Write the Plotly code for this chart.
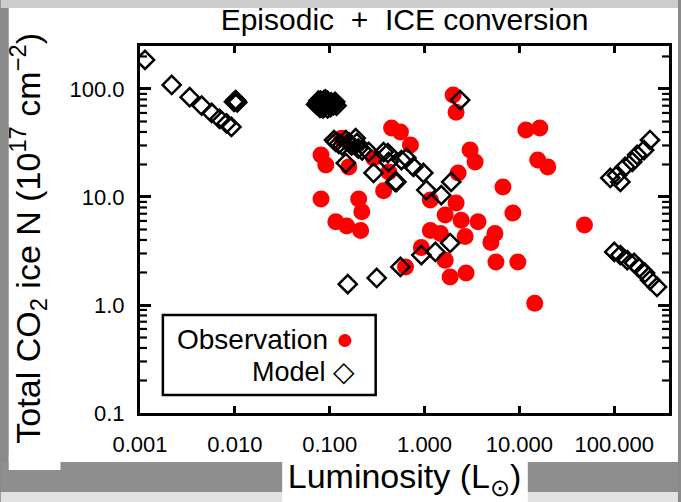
import plotly.graph_objects as go

# ---------------- data ----------------
obs_lum = [0.081, 0.091, 0.081, 0.116, 0.151, 0.212, 0.202, 0.218, 0.159, 0.134,
           0.37, 0.449, 0.557, 0.71, 0.29, 0.42,
           2.0, 2.15, 3.02, 3.41, 2.26,
           1.15, 2.15, 6.7, 8.53,
           1.65, 2.43, 3.66, 1.15, 1.47, 2.68, 5.52, 5.01, 0.925, 1.65,
           5.66, 9.62, 0.63, 1.86, 2.74, 14.5,
           11.7, 16.4, 15.6, 19.9, 48.5]
obs_n = [24.5, 19.8, 9.6, 5.9, 5.4, 4.9, 9.6, 7.3, 19.0, 35.0,
         11.4, 43.5, 40.0, 30.3, 23.0, 17.0,
         88.0, 61.0, 27.2, 21.1, 16.7,
         9.4, 8.8, 12.4, 7.1,
         6.8, 6.1, 5.9, 4.9, 4.6, 4.3, 4.6, 3.8, 3.4, 2.6,
         2.5, 2.5, 2.25, 1.82, 1.98, 1.04,
         41.7, 43.5, 22.0, 19.0, 5.5]

mod_lum = [0.00113, 0.00216, 0.00334, 0.00447, 0.00569, 0.0069, 0.00817, 0.0092,
           0.0098, 0.0102, 0.0106, 0.0104,
           0.072, 0.075, 0.078, 0.080, 0.083, 0.086, 0.088, 0.090, 0.093, 0.096, 0.100,
           0.104, 0.108, 0.112, 0.118, 0.085, 0.095, 0.076, 0.079, 0.082, 0.087,
           0.091, 0.094, 0.098, 0.102, 0.106, 0.110, 0.114, 0.089, 0.099, 0.084,
           0.111, 0.116, 0.125, 0.135, 0.148, 0.16, 0.17, 0.188, 0.193, 0.2, 0.22,
           0.148, 0.258, 0.29, 0.37, 0.41, 0.418, 0.49, 0.506, 0.57, 0.644, 0.764,
           0.97, 1.045, 1.5, 1.91, 2.37,
           0.155, 0.313, 0.557, 0.925, 1.3, 1.86,
           90.8, 107, 116, 130, 155, 174, 206, 238,
           100, 116, 137, 162, 183, 211, 238, 282]
mod_n = [186, 109, 84, 70, 60, 53, 48, 44.5,
         76, 79, 75, 77,
         72, 74, 70, 78, 72, 76, 68, 80, 73, 77, 70,
         75, 72, 74, 70, 66, 66, 78, 67, 75, 79,
         71, 78, 74, 68, 73, 71, 76, 74, 72, 69,
         33.7, 32.3, 31, 30, 33.7, 32, 30, 35, 31.6, 28, 27,
         20.6, 26.1, 16.7, 26, 25.5, 21.1, 13.8, 13.8, 22.0, 23, 19,
         16.7, 11.6, 10.4, 13.8, 79,
         1.56, 1.78, 2.25, 2.9, 3.1, 3.75,
         15, 15.9, 13.8, 19, 21.1, 24.5, 27.2, 33.7,
         3.1, 2.9, 2.6, 2.45, 2.2, 1.98, 1.70, 1.47]

x_tickvals = [0.001, 0.01, 0.1, 1, 10, 100]
x_ticktext = ["0.001", "0.010", "0.100", "1.000", "10.000", "100.000"]
y_tickvals = [0.1, 1, 10, 100]
y_ticktext = ["0.1", "1.0", "10.0", "100.0"]
y_minor = [0.2, 0.3, 0.4, 0.5, 0.6, 0.7, 0.8, 0.9,
           2, 3, 4, 5, 6, 7, 8, 9,
           20, 30, 40, 50, 60, 70, 80, 90, 200]

# ---------------- layout geometry (pixels) ----------------
W, H = 681, 502
L, R, T, B = 140, 672, 46, 413
FONT = "Liberation Sans, Arial, sans-serif"
X_RANGE = [-3, 2.577]
Y_RANGE = [-1, 2.398]
MINOR_LEN = 7 / (R - L)


def px(x):
    return (x - L) / (R - L)


def py(y):
    return (B - y) / (B - T)


fig = go.Figure()
fig.add_trace(go.Scatter(x=obs_lum, y=obs_n, mode="markers", name="Observation",
                         marker=dict(symbol="circle", size=17, color="#ff0000",
                                     line=dict(width=0))))
fig.add_trace(go.Scatter(x=mod_lum, y=mod_n, mode="markers", name="Model",
                         marker=dict(symbol="diamond-open", size=14, color="black",
                                     line=dict(width=2.5, color="black"))))

shapes = []


def rect(x0, y0, x1, y1, color):
    shapes.append(dict(type="rect", xref="paper", yref="paper",
                       x0=px(x0), x1=px(x1), y0=py(y1), y1=py(y0),
                       fillcolor=color, line=dict(width=0), layer="below"))


# screenshot-like background
rect(0, 0, W, 8, "#cdcdcd")
rect(8, 8, W, 462, "#ffffff")
rect(0, 462, W, 492, "#8e8e8e")
rect(0, 492, W, H, "#e2e2e2")
rect(8, 455, 60, 470, "#ffffff")
rect(283, 455, 530, H, "#ffffff")

# minor y ticks on both sides (positions from y_minor, through the y axis scale)
for v in y_minor:
    for xa, xb in ((0, MINOR_LEN), (1, 1 - MINOR_LEN)):
        shapes.append(dict(type="line", xref="paper", yref="y", x0=xa, x1=xb, y0=v, y1=v,
                           line=dict(color="black", width=2.2), layer="above"))

# legend box
shapes.append(dict(type="rect", xref="paper", yref="paper",
                   x0=px(163), x1=px(377), y0=py(395), y1=py(315),
                   fillcolor="white", line=dict(width=2.5, color="black"), layer="above"))

annotations = [
    dict(text="Observation <span style='color:#ff0000;font-size:30px'>●</span>",
         xref="paper", yref="paper",
         x=px(357), y=py(338), xanchor="right", yanchor="middle", showarrow=False,
         font=dict(family=FONT, size=28, color="black")),
    dict(text="Model <span style='font-size:28px'>◇</span>", xref="paper", yref="paper",
         x=px(358), y=py(371), xanchor="right", yanchor="middle", showarrow=False,
         font=dict(family=FONT, size=27, color="black")),
    # y-axis title
    dict(text="Total CO<sub>2</sub> ice N (10<sup>17</sup> cm<sup>−2</sup>)",
         xref="paper", yref="paper", x=px(27), y=py(238),
         xanchor="center", yanchor="middle", textangle=-90, showarrow=False,
         font=dict(family=FONT, size=34, color="black")),
]

fig.update_layout(
    width=W, height=H,
    margin=dict(l=L, r=W - R, t=T, b=H - B, pad=0),
    paper_bgcolor="#8a8a8a",
    plot_bgcolor="white",
    showlegend=False,
    font=dict(family=FONT, color="black"),
    title=dict(text="Episodic  +  ICE conversion", x=px((L + R) / 2), xref="paper",
               xanchor="center", y=1 - 19 / H, yanchor="middle",
               font=dict(family=FONT, size=30, color="black")),
    shapes=shapes,
    annotations=annotations,
)

fig.update_xaxes(type="log", range=X_RANGE, showgrid=False, zeroline=False,
                 showline=True, linecolor="black", linewidth=3, mirror="ticks",
                 ticks="inside", ticklen=7, tickwidth=2.5, tickcolor="black",
                 tickvals=x_tickvals, ticktext=x_ticktext,
                 tickfont=dict(family=FONT, size=22, color="black"),
                 ticklabelstandoff=10,
                 title=dict(text="Luminosity (L<sub>⊙</sub>)",
                            font=dict(family=FONT, size=34, color="black"), standoff=8))
fig.update_yaxes(type="log", range=Y_RANGE, showgrid=False, zeroline=False,
                 showline=True, linecolor="black", linewidth=3, mirror="ticks",
                 ticks="inside", ticklen=11, tickwidth=2.5, tickcolor="black",
                 tickvals=y_tickvals, ticktext=y_ticktext,
                 tickfont=dict(family=FONT, size=22, color="black"),
                 ticklabelstandoff=8)

fig.write_html("out.html")
